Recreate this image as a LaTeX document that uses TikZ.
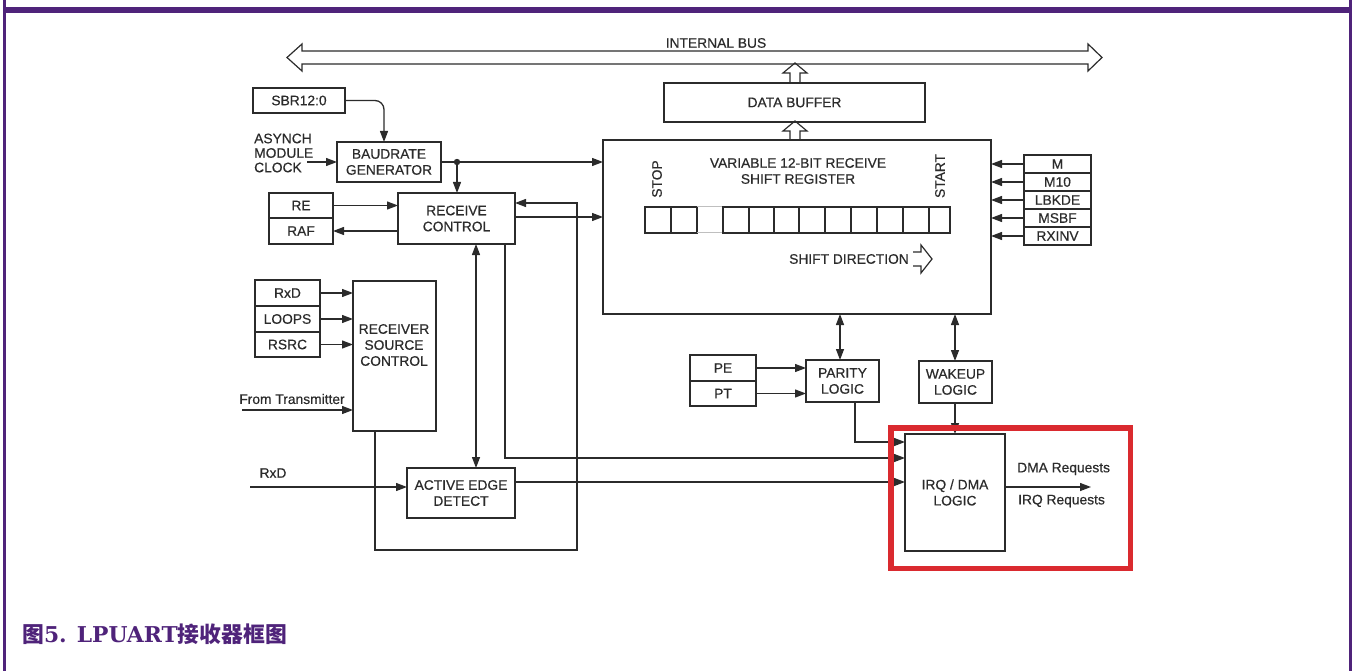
\documentclass[tikz,border=0pt]{standalone}
\usepackage{fontspec}
\setmainfont{Liberation Sans}
\newfontfamily\dia{Liberation Sans}[FakeBold=0.5]
\newfontfamily\capserif{DejaVu Serif}
\newfontfamily\cjk{Noto Sans CJK SC}
\usetikzlibrary{arrows.meta}
\definecolor{ink}{HTML}{2B2B2B}
\definecolor{framec}{HTML}{4F237A}
\definecolor{hl}{HTML}{DA2A2F}
\newcommand\bx[6]{\node[box, anchor=north west, minimum width={#4-#2}, minimum height={#5-#3}] (#1) at (#2,#3) {#6};}
\begin{document}
\begin{tikzpicture}[x=1pt,y=-1pt,
  font=\dia\fontsize{13.8}{16}\selectfont,
  box/.style={draw=ink, line width=1.4pt, inner sep=0pt, outer sep=0pt, text=ink, align=center},
  lbl/.style={text=ink, inner sep=0pt},
  ln/.style={draw=ink, line width=1.3pt},
  arr/.style={ln, -{Triangle[length=11pt,width=8pt]}},
  darr/.style={ln, {Triangle[length=11pt,width=8pt]}-{Triangle[length=11pt,width=8pt]}},
  fat/.style={draw=ink, line width=1.2pt, line join=miter}]
\useasboundingbox (0,0) rectangle (1352,671);
% frame
\fill[framec] (3,7) rectangle (1352,13);
\fill[framec] (3,0) rectangle (6,671);
\fill[framec] (1349,0) rectangle (1352,671);
% internal bus
\draw[fat] (302,51) -- (1088,51) -- (1088,44) -- (1102,57.5) -- (1088,71) -- (1088,64) -- (302,64) -- (302,71) -- (287,57.5) -- (302,44) -- cycle;
\node[lbl] (busl) at (716,43) {INTERNAL BUS};
% data buffer
\bx{db}{664}{83}{925}{122}{DATA BUFFER}
\draw[fat] (790,83) -- (790,73) -- (783,73) -- (795,63) -- (807,73) -- (800,73) -- (800,83);
% shift register
\bx{sr}{603}{140}{991}{314}{}
\draw[fat] (790,140) -- (790,131) -- (783,131) -- (795,121) -- (807,131) -- (800,131) -- (800,140);
\node[lbl, align=center] (srt) at (798,171) {VARIABLE 12-BIT RECEIVE\\SHIFT REGISTER};
\node[lbl, rotate=90] (stop) at (657,179) {STOP};
\node[lbl, rotate=90] (start) at (940,176) {START};
\draw[ink, line width=1.3pt] (645,207) rectangle (671,233) (671,207) rectangle (697,233);
\draw[gray!50, line width=1pt] (697,207) -- (723,207) (697,233) -- (723,233);
\foreach \a/\b in {723/749,749/774,774/799,799/825,825/851,851/877,877/903,903/929,929/950}
  \draw[ink, line width=1.3pt] (\a,207) rectangle (\b,233);
\node[lbl] (sdir) at (849,259) {SHIFT DIRECTION};
\draw[fat] (913,252) -- (921,252) -- (921,245) -- (932,259) -- (921,273) -- (921,266) -- (913,266);
% right registers
\bx{m}{1024}{155}{1091}{173}{M}
\bx{m10}{1024}{173}{1091}{191}{M10}
\bx{lbk}{1024}{191}{1091}{209}{LBKDE}
\bx{msbf}{1024}{209}{1091}{227}{MSBF}
\bx{rxinv}{1024}{227}{1091}{245}{RXINV}
\foreach \n in {m,m10,lbk,msbf,rxinv}
  \draw[arr] (\n.west) -- (sr.east |- \n.west);
% SBR and baudrate
\bx{sbr}{253}{88}{345}{113}{SBR12:0}
\bx{bg}{337}{142}{441}{182}{BAUDRATE\\GENERATOR}
\draw[arr, rounded corners=9pt] (sbr.east) -| (bg.north -| 384,0);
\node[lbl, align=left, anchor=west, font=\dia\fontsize{13.8}{14.5}\selectfont] (clk) at (254,153) {ASYNCH\\MODULE\\CLOCK};
\coordinate (clkin) at (307,162);
\draw[arr] (clkin) -- (bg.west |- clkin);
\draw[arr] (bg.east) -- (sr.west |- bg.east);
\coordinate (dot) at (457,162);
\fill[ink] (dot) circle (3.2);
% receive control
\bx{rc}{398}{193}{515}{244}{RECEIVE\\CONTROL}
\draw[arr] (dot) -- (rc.north -| dot);
\bx{re}{269}{193}{333}{218}{RE}
\bx{raf}{269}{218}{333}{244}{RAF}
\draw[arr] (re.east) -- (rc.west |- re.east);
\draw[arr] (rc.west |- raf.east) -- (raf.east);
\draw[arr] (rc.east |- 0,217) -- (sr.west |- 0,217);
% receiver source control
\bx{rxd}{255}{280}{320}{306}{RxD}
\bx{loops}{255}{306}{320}{332}{LOOPS}
\bx{rsrc}{255}{332}{320}{357}{RSRC}
\bx{rsc}{353}{281}{436}{431}{}
\node[lbl, align=center] (rsct) at (394,345) {RECEIVER\\SOURCE\\CONTROL};
\foreach \n in {rxd,loops,rsrc}
  \draw[arr] (\n.east) -- (rsc.west |- \n.east);
\node[lbl] (ftx) at (292,399) {From Transmitter};
\coordinate (ftxin) at (242,410);
\draw[arr] (ftxin) -- (rsc.west |- ftxin);
% active edge detect
\bx{aed}{407}{468}{515}{518}{ACTIVE EDGE\\DETECT}
\node[lbl] (rxd2) at (273,473) {RxD};
\coordinate (rxdin) at (250,487);
\draw[arr] (rxdin) -- (aed.west |- rxdin);
\draw[arr] (rsc.south -| 375,0) -- (375,550) -- (577,550) -- (577,203) -- (rc.east |- 0,203);
\draw[darr] (rc.south -| 476,0) -- (aed.north -| 476,0);
% parity / wakeup
\bx{pe}{690}{355}{756}{381}{PE}
\bx{pt}{690}{381}{756}{406}{PT}
\bx{par}{806}{360}{879}{402}{PARITY\\LOGIC}
\bx{wk}{919}{361}{992}{403}{WAKEUP\\LOGIC}
\draw[arr] (pe.east) -- (par.west |- pe.east);
\draw[arr] (pt.east) -- (par.west |- pt.east);
\draw[darr] (sr.south -| 840,0) -- (par.north -| 840,0);
\draw[darr] (sr.south -| 955,0) -- (wk.north -| 955,0);
% IRQ / DMA
\bx{irq}{905}{434}{1005}{551}{IRQ / DMA\\LOGIC}
\draw[arr] (par.south -| 855,0) -- (855,442) -- (irq.west |- 0,442);
\draw[arr] (rc.south -| 505,0) -- (505,458) -- (irq.west |- 0,458);
\draw[arr] (aed.east |- 0,482) -- (irq.west |- 0,482);
\draw[arr] (wk.south -| 955,0) -- (irq.north -| 955,0);
\coordinate (reqout) at (1091,487);
\draw[arr] (irq.east |- reqout) -- (reqout);
\node[lbl, anchor=west] (dmar) at (1017,469) {DMA Requests};
\node[lbl, anchor=west] (irqr) at (1018,501) {IRQ Requests};
\draw[hl, line width=5.5pt] (890.75,427.75) rectangle (1130.25,568.25);
% caption
\node[anchor=west, inner sep=0pt, text=framec, font=\fontsize{21.8}{24}\selectfont\bfseries] (cap) at (22,634)
  {{\cjk 图}{\capserif 5. LPUART}{\cjk 接收器框图}};
\end{tikzpicture}
\end{document}
